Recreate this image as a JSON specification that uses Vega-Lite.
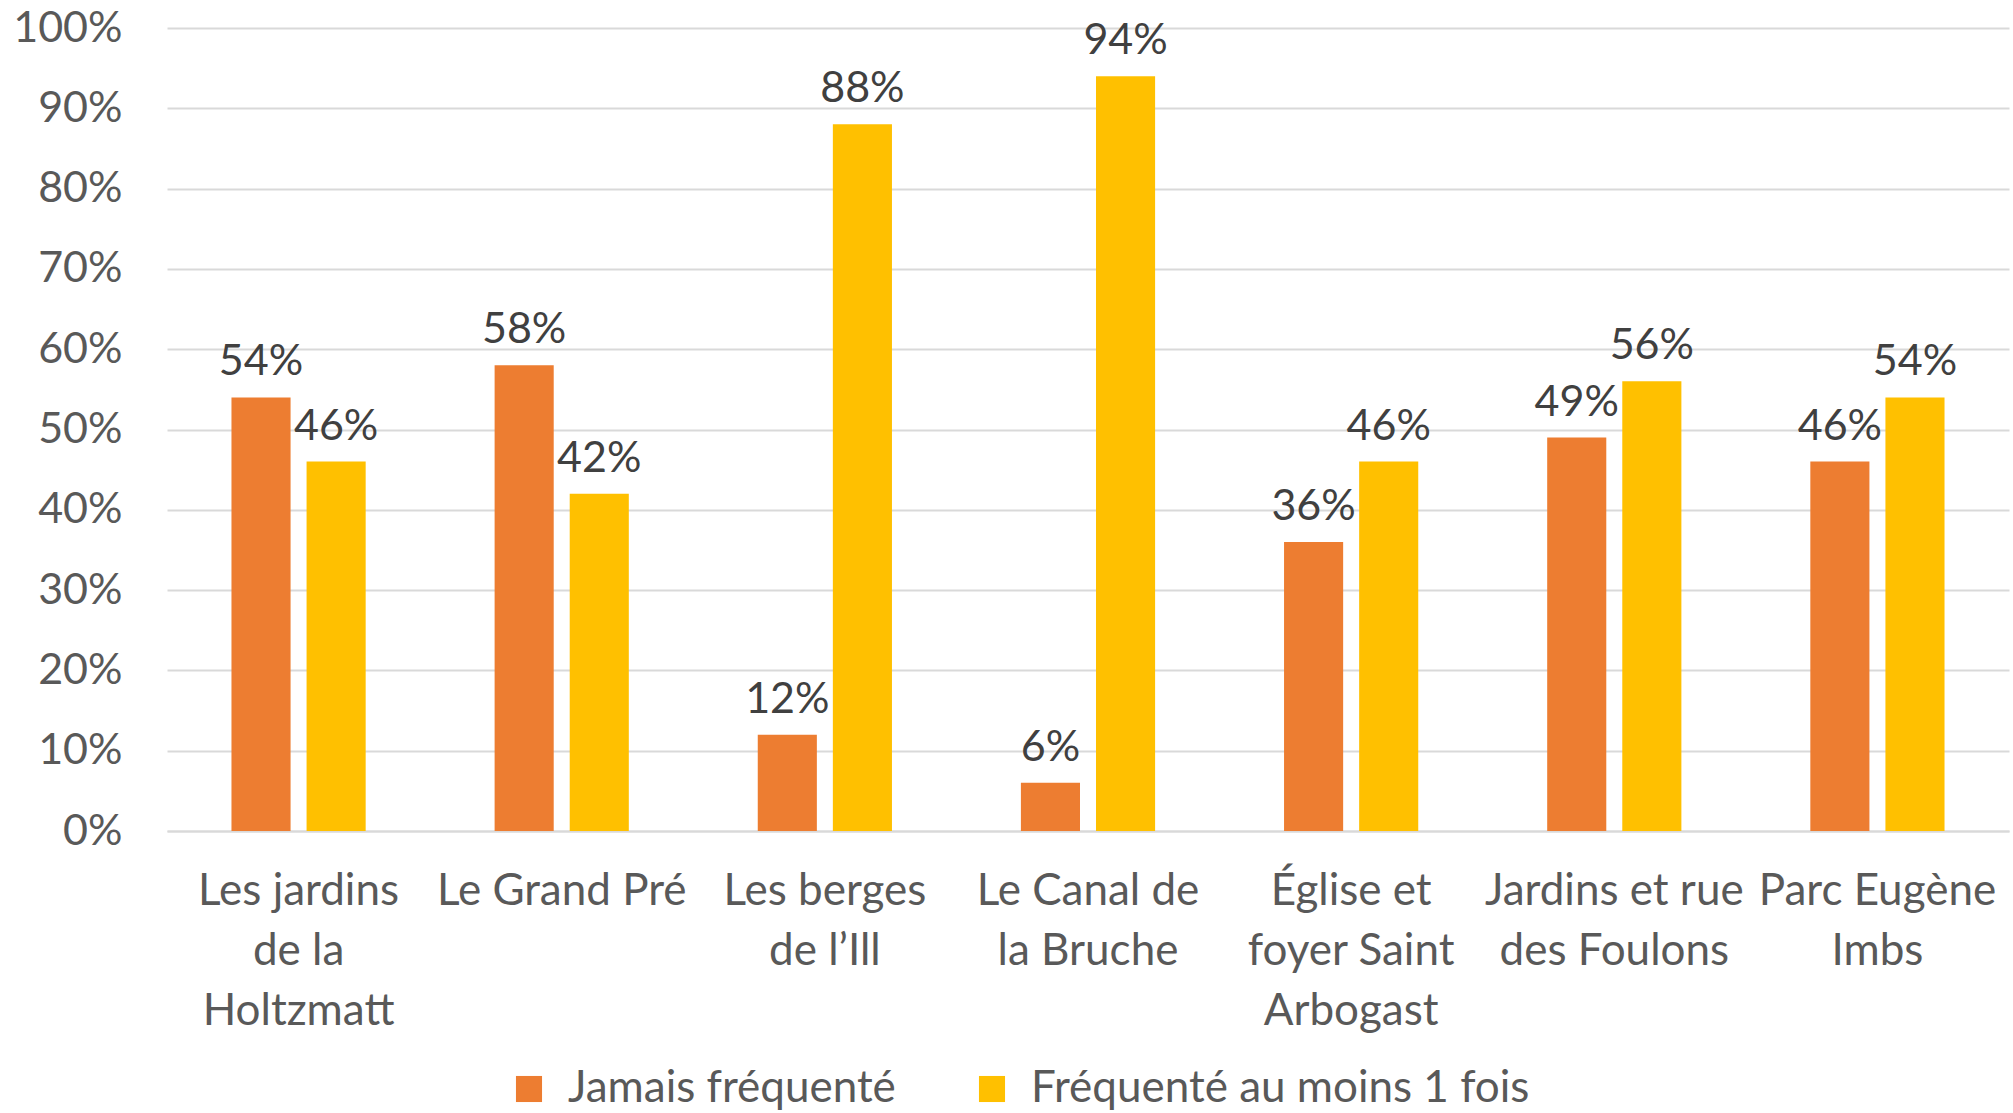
{
  "$schema": "https://vega.github.io/schema/vega-lite/v6.json",
  "width": 1842,
  "height": 803,
  "autosize": "none",
  "padding": {"left": 167, "top": 28, "right": 4, "bottom": 282},
  "background": "white",
  "config": {
    "view": {"stroke": null},
    "font": "Lato"
  },
  "data": {
    "values": [
      {"lieu": "Les jardins|de la|Holtzmatt", "serie": "Jamais fréquenté", "v": 0.54},
      {"lieu": "Les jardins|de la|Holtzmatt", "serie": "Fréquenté au moins 1 fois", "v": 0.46},
      {"lieu": "Le Grand Pré", "serie": "Jamais fréquenté", "v": 0.58},
      {"lieu": "Le Grand Pré", "serie": "Fréquenté au moins 1 fois", "v": 0.42},
      {"lieu": "Les berges|de l’Ill", "serie": "Jamais fréquenté", "v": 0.12},
      {"lieu": "Les berges|de l’Ill", "serie": "Fréquenté au moins 1 fois", "v": 0.88},
      {"lieu": "Le Canal de|la Bruche", "serie": "Jamais fréquenté", "v": 0.06},
      {"lieu": "Le Canal de|la Bruche", "serie": "Fréquenté au moins 1 fois", "v": 0.94},
      {"lieu": "Église et|foyer Saint|Arbogast", "serie": "Jamais fréquenté", "v": 0.36},
      {"lieu": "Église et|foyer Saint|Arbogast", "serie": "Fréquenté au moins 1 fois", "v": 0.46},
      {"lieu": "Jardins et rue|des Foulons", "serie": "Jamais fréquenté", "v": 0.49},
      {"lieu": "Jardins et rue|des Foulons", "serie": "Fréquenté au moins 1 fois", "v": 0.56},
      {"lieu": "Parc Eugène|Imbs", "serie": "Jamais fréquenté", "v": 0.46},
      {"lieu": "Parc Eugène|Imbs", "serie": "Fréquenté au moins 1 fois", "v": 0.54}
    ]
  },
  "encoding": {
    "x": {
      "field": "lieu", "type": "nominal", "sort": null,
      "scale": {"paddingInner": 0.49, "paddingOuter": 0.245},
      "axis": {
        "title": null, "labelAngle": 0, "ticks": false, "domain": true,
        "domainColor": "#d9d9d9", "domainWidth": 2,
        "labelExpr": "split(datum.label, '|')",
        "labelFont": "Lato", "labelFontSize": 44, "labelColor": "#595959",
        "labelLineHeight": 60, "labelPadding": 38, "labelBaseline": "top", "labelLimit": 400
      }
    },
    "xOffset": {
      "field": "serie", "type": "nominal",
      "scale": {"domain": ["Jamais fréquenté", "Fréquenté au moins 1 fois"], "paddingInner": 0.213}
    },
    "y": {
      "field": "v", "type": "quantitative",
      "scale": {"domain": [0, 1], "nice": false},
      "axis": {
        "title": null, "format": ".0%", "values": [0, 0.1, 0.2, 0.3, 0.4, 0.5, 0.6, 0.7, 0.8, 0.9, 1],
        "ticks": false, "domain": false, "grid": true, "gridColor": "#d9d9d9", "gridWidth": 2,
        "labelFont": "Lato", "labelFontSize": 43, "labelColor": "#595959", "labelPadding": 45
      }
    },
    "color": {
      "field": "serie", "type": "nominal",
      "scale": {"domain": ["Jamais fréquenté", "Fréquenté au moins 1 fois"], "range": ["#ED7D31", "#FFC000"]},
      "legend": {
        "title": null, "orient": "none", "direction": "horizontal",
        "legendX": 340, "legendY": 1039,
        "symbolType": "square", "symbolSize": 680, "symbolStrokeWidth": 0,
        "labelFont": "Lato", "labelFontSize": 44, "labelColor": "#595959",
        "labelOffset": 17, "columnPadding": 74, "labelLimit": 600
      }
    }
  },
  "layer": [
    {"mark": {"type": "bar"}},
    {
      "mark": {"type": "text", "baseline": "alphabetic", "dy": -22, "font": "Lato", "fontSize": 43, "color": "#404040"},
      "encoding": {"text": {"field": "v", "type": "quantitative", "format": ".0%"}, "color": {"value": "#404040"}}
    }
  ]
}
